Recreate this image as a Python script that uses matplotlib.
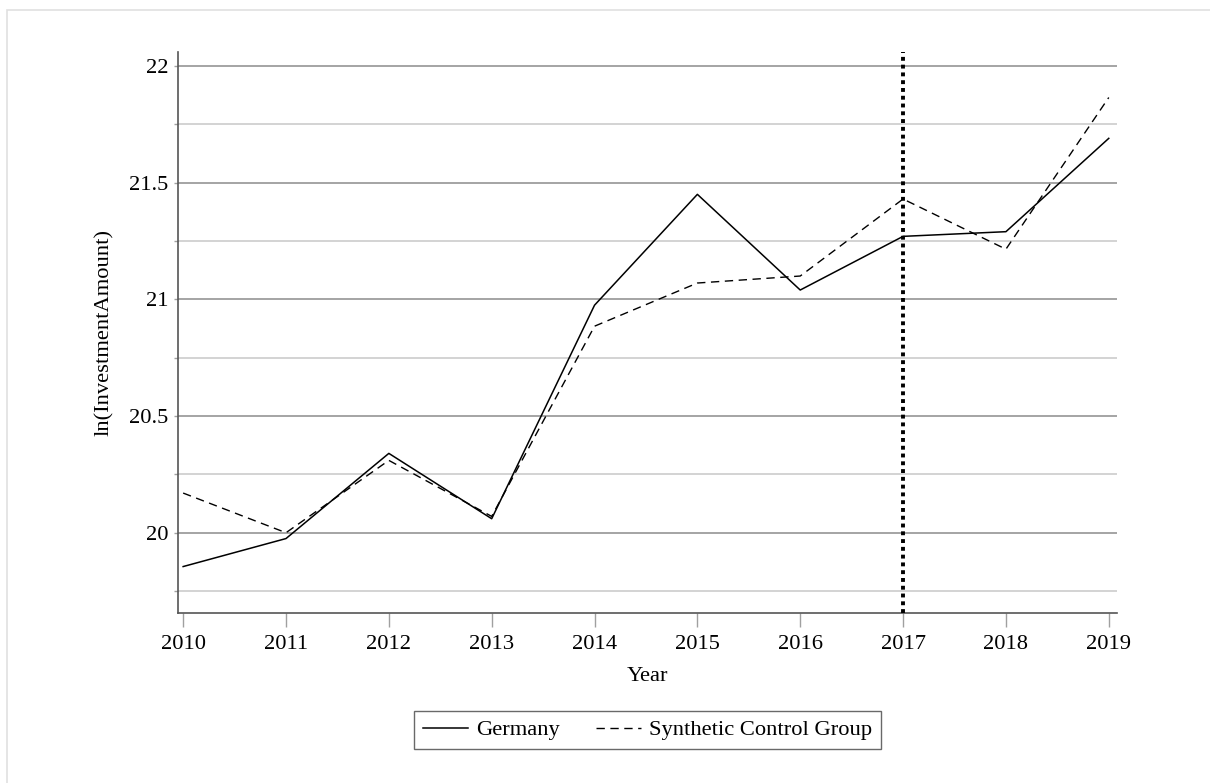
import matplotlib.pyplot as plt
from matplotlib.patches import Rectangle

years = [2010, 2011, 2012, 2013, 2014, 2015, 2016, 2017, 2018, 2019]
germany = [19.855, 19.975, 20.34, 20.06, 20.975, 21.45, 21.04, 21.27, 21.29, 21.69]
synthetic = [20.17, 20.0, 20.31, 20.07, 20.885, 21.07, 21.10, 21.43, 21.215, 21.865]
major_y = [20, 20.5, 21, 21.5, 22]
minor_y = [19.75, 20.25, 20.75, 21.25, 21.75]
treat_year = 2017

plt.rcParams['font.family'] = ['Liberation Serif', 'DejaVu Serif']
plt.rcParams['font.size'] = 16.2

fig = plt.figure(figsize=(12.1, 7.83), dpi=100)
fig.patches.append(Rectangle((7 / 1210, -0.1), 1.2, 1 - 10 / 783 + 0.1,
                             transform=fig.transFigure, fill=False,
                             edgecolor='#e0e0e0', linewidth=1.2))

ax = fig.add_axes([178 / 1210, 1 - 613 / 783, (1117 - 178) / 1210, (613 - 52) / 783])

for v in major_y:
    ax.axhline(v, color='#8c8c8c', linewidth=1.1, zorder=1)
for v in minor_y:
    ax.axhline(v, color='#c8c8c8', linewidth=1.1, zorder=1)

line1, = ax.plot(years, germany, color='black', linewidth=1.1, linestyle='-', label='Germany', zorder=3)
line2, = ax.plot(years, synthetic, color='black', linewidth=1.0, linestyle=(0, (6, 4)),
                 label='Synthetic Control Group', zorder=3)
ax.axvline(treat_year, color='black', linewidth=2.8, linestyle=(0, (1, 1)), zorder=4)

ax.set_xlim(2009.95, 2019.08)
ax.set_ylim(19.656, 22.06)
ax.set_xticks(years)
ax.set_yticks(major_y)
ax.set_yticklabels(['20', '20.5', '21', '21.5', '22'])
ax.set_yticks(minor_y, minor=True)
ax.tick_params(axis='x', direction='out', length=10, width=1, color='#a0a0a0', pad=6)
ax.tick_params(axis='y', which='both', direction='out', length=3, width=1, color='#a0a0a0', pad=4)

for s in ['top', 'right']:
    ax.spines[s].set_visible(False)
for s in ['left', 'bottom']:
    ax.spines[s].set_color('#555555')
    ax.spines[s].set_linewidth(1.2)

ax.set_xlabel('Year', labelpad=9)
ax.set_ylabel('ln(InvestmentAmount)', labelpad=11)

leg = fig.legend(handles=[line1, line2], loc='center', bbox_to_anchor=(647.5 / 1210, 1 - 730 / 783),
                 ncol=2, frameon=True, fancybox=False, edgecolor='#444444',
                 handlelength=2.0, columnspacing=1.6, borderpad=0.4, handletextpad=0.35,
                 borderaxespad=0)
leg.get_frame().set_linewidth(1.0)

fig.savefig('out.png', dpi=100)
